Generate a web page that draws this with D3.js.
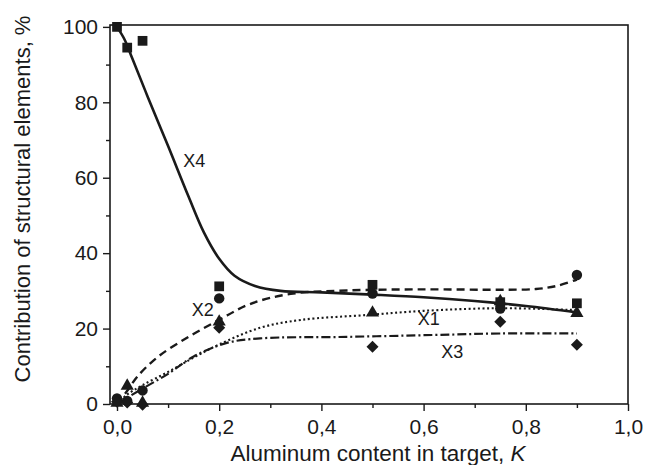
<!DOCTYPE html>
<html>
<head>
<meta charset="utf-8">
<script src="https://cdn.jsdelivr.net/npm/d3@7"></script>
<style>
  body { margin: 0; background: #fff; }
  text { font-family: "Liberation Sans", Arial, sans-serif; fill: #1a1a1a; }
</style>
</head>
<body>
<div id="chart"></div>
<script>
// tick values
let xMajor = [0, 0.2, 0.4, 0.6, 0.8, 1.0],
    xMinor = [0.1, 0.3, 0.5, 0.7, 0.9],
    yMajor = [0, 20, 40, 60, 80, 100],
    yMinor = [10, 30, 50, 70, 90]

// measured points [K, %]
let squares   = [[0, 100], [0.02, 94.5], [0.05, 96.3], [0.2, 31.2], [0.5, 31.6], [0.75, 27], [0.9, 26.7]]
let circles   = [[0, 1.5], [0.02, 0.8], [0.05, 3.6], [0.2, 28], [0.5, 29.3], [0.75, 25.3], [0.9, 34.2]]
let triangles = [[0, 0.3], [0.02, 4.8], [0.05, 0.3], [0.2, 21.8], [0.5, 24.2], [0.75, 27.2], [0.9, 24.1]]
let diamonds  = [[0, 0.6], [0.02, 0.4], [0.05, -0.2], [0.2, 20.2], [0.5, 15.2], [0.75, 21.8], [0.9, 15.7]]

// fitted curves
let curveX4 = [[0, 100], [0.015, 96.6], [0.03, 91.6], [0.06, 81.5], [0.1, 68.4], [0.14, 55], [0.17, 45.5],
               [0.2, 38.5], [0.23, 34], [0.27, 31.3], [0.32, 30], [0.4, 29.6], [0.5, 29], [0.6, 28.3],
               [0.7, 27.3], [0.8, 26], [0.9, 24.3]]
let curveX2 = [[0, 0], [0.02, 3.5], [0.04, 7.3], [0.08, 12.5], [0.14, 17.8], [0.2, 22.3], [0.26, 26.5],
               [0.34, 29.2], [0.45, 30.1], [0.6, 30.4], [0.75, 30.3], [0.82, 30.5], [0.86, 31.3], [0.9, 33]]
let curveX1 = [[0, 0], [0.02, 2.5], [0.05, 5], [0.1, 8.5], [0.15, 12.3], [0.2, 15.8], [0.28, 20.2],
               [0.36, 22.3], [0.49, 23.6], [0.6, 24.7], [0.75, 25.4], [0.9, 24.9]]
let curveX3 = [[0, 0], [0.045, 3.7], [0.1, 8], [0.15, 12.6], [0.215, 16.2], [0.28, 17.4], [0.45, 17.8],
               [0.62, 18.3], [0.75, 18.7], [0.9, 18.7]]

let curveLabels = [
  {name: 'X4', at: [0.151, 64.5]},
  {name: 'X2', at: [0.168, 25]},
  {name: 'X1', at: [0.61, 22.5]},
  {name: 'X3', at: [0.656, 13.8]}
]

function makeChart(){
    let width = 645, height = 465
    let left = 110, right = 628, top = 25, bottom = 404
    let ink = '#1a1a1a'
    let font = '"Liberation Sans", Arial, sans-serif'

    let svg = d3.select('#chart')
                .append('svg')
                    .attr('width', width)
                    .attr('height', height)

    let x = d3.scaleLinear().domain([-0.0137, 1.0]).range([left, right])
    let y = d3.scaleLinear().domain([0, 100.5]).range([bottom, top])

    let fmtX = d => d3.format('.1f')(d).replace('.', ',')

    // axes: major + minor ticks
    svg.append('g').attr('transform', `translate(0,${bottom})`)
       .call(d3.axisBottom(x).tickValues(xMajor).tickSize(7).tickPadding(8).tickFormat(fmtX))
    svg.append('g').attr('transform', `translate(0,${bottom})`)
       .call(d3.axisBottom(x).tickValues(xMinor).tickSize(4).tickFormat(''))

    svg.append('g').attr('transform', `translate(${left},0)`)
       .call(d3.axisLeft(y).tickValues(yMajor).tickSize(7).tickPadding(5))
    svg.append('g').attr('transform', `translate(${left},0)`)
       .call(d3.axisLeft(y).tickValues(yMinor).tickSize(4).tickFormat(''))

    svg.selectAll('.domain').remove()
    svg.selectAll('.tick line').attr('stroke', ink).attr('stroke-width', 1.4)
    svg.selectAll('.tick text').style('font-size', '21px').style('font-family', font).attr('fill', ink)

    // frame
    svg.append('rect')
        .attr('x', left).attr('y', top)
        .attr('width', right - left).attr('height', bottom - top)
        .attr('fill', 'none').attr('stroke', ink).attr('stroke-width', 1.6)

    // curves
    let line = d3.line().x(d => x(d[0])).y(d => y(d[1])).curve(d3.curveCatmullRom.alpha(0.5))
    let styles = [
        {data: curveX4, dash: null, w: 2.6},
        {data: curveX2, dash: '8,5', w: 2.4},
        {data: curveX1, dash: '2,2.6', w: 2.1},
        {data: curveX3, dash: '9,3,2,3', w: 2.2}
    ]
    styles.forEach(s => {
        svg.append('path')
            .attr('d', line(s.data))
            .attr('fill', 'none')
            .attr('stroke', ink)
            .attr('stroke-width', s.w)
            .attr('stroke-dasharray', s.dash)
    })

    // markers
    let markerSets = [
        {data: squares, type: d3.symbolSquare, size: 95, rot: 0},
        {data: circles, type: d3.symbolCircle, size: 85, rot: 0},
        {data: triangles, type: d3.symbolTriangle, size: 75, rot: 0},
        {data: diamonds, type: d3.symbolSquare, size: 72, rot: 45}
    ]
    markerSets.forEach(m => {
        svg.selectAll(null)
            .data(m.data)
            .enter()
            .append('path')
            .attr('transform', d => `translate(${x(d[0])},${y(d[1])}) rotate(${m.rot})`)
            .attr('d', d3.symbol().type(m.type).size(m.size))
            .attr('fill', ink)
    })

    // curve labels
    svg.selectAll(null)
        .data(curveLabels)
        .enter()
        .append('text')
        .attr('x', d => x(d.at[0]))
        .attr('y', d => y(d.at[1]))
        .attr('dy', '0.35em')
        .attr('text-anchor', 'middle')
        .style('font-size', '18px')
        .text(d => d.name)

    // axis titles
    let xt = svg.append('text')
        .attr('x', 378).attr('y', 461)
        .attr('text-anchor', 'middle')
        .style('font-size', '22.5px')
    xt.append('tspan').text('Aluminum content in target, ')
    xt.append('tspan').style('font-style', 'italic').text('K')

    svg.append('text')
        .attr('transform', 'translate(30,199) rotate(-90)')
        .attr('text-anchor', 'middle')
        .style('font-size', '22px')
        .text('Contribution of structural elements, %')
}

makeChart()
</script>
</body>
</html>
